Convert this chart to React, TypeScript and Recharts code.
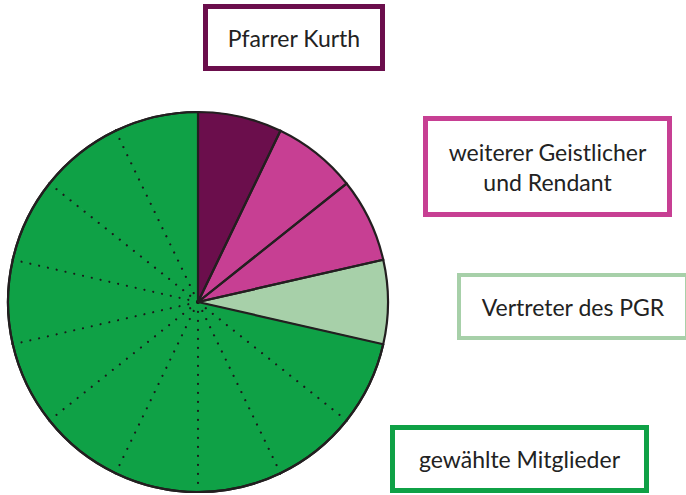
import React from 'react';
import { PieChart, Pie, Cell } from 'recharts';

// One seat per slice, clockwise from the top
const seatGroups = [
  'pfarrer',
  'geistlich',
  'geistlich',
  'pgr',
  'gewaehlt', 'gewaehlt', 'gewaehlt', 'gewaehlt', 'gewaehlt',
  'gewaehlt', 'gewaehlt', 'gewaehlt', 'gewaehlt', 'gewaehlt',
];
const seatValues = [1, 1, 1, 1, 1, 1, 1, 1, 1, 1, 1, 1, 1, 1];

const groupKeys = ['pfarrer', 'geistlich', 'pgr', 'gewaehlt'];
const groupLabels = [
  ['Pfarrer Kurth'],
  ['weiterer Geistlicher', 'und Rendant'],
  ['Vertreter des PGR'],
  ['gewählte Mitglieder'],
];

const groupColors: Record<string, string> = {
  pfarrer: '#6b0e4c',
  geistlich: '#c73f93',
  pgr: '#a7d0a9',
  gewaehlt: '#0fa146',
};

const data = seatGroups.map((g, i) => ({ name: `${g}-${i}`, group: g, value: seatValues[i] }));

const OUTLINE = '#231f20';
const R = 190;
const arcLen = (R * 2 * Math.PI) / data.length;
const DOT = 0.01;
const GAP = 8.99;
const dotted =
  `${arcLen} ${GAP}` + ` ${DOT} ${GAP}`.repeat(20) + ' 0 2000';

const boxStyles: React.CSSProperties[] = [
  { left: 203, top: 4, width: 182, height: 67, borderWidth: 5 },
  { left: 423, top: 116, width: 249, height: 101, borderWidth: 5 },
  { left: 457, top: 273, width: 232, height: 67, borderWidth: 4 },
  { left: 390, top: 425, width: 259, height: 68, borderWidth: 5 },
];

const pieProps = {
  data,
  dataKey: 'value',
  cx: 198,
  cy: 302,
  outerRadius: R,
  startAngle: 90,
  endAngle: -270,
  isAnimationActive: false,
  paddingAngle: 0,
};

export default function App() {
  return (
    <div style={{ position: 'absolute', left: 0, top: 0, width: 686, height: 495, background: '#fff' }}>
      <PieChart width={686} height={495} margin={{ top: 0, right: 0, bottom: 0, left: 0 }}>
        <Pie {...pieProps}>
          {data.map((d, i) => (
            <Cell
              key={`f-${i}`}
              fill={groupColors[d.group]}
              stroke={groupColors[d.group]}
              strokeWidth={1}
            />
          ))}
        </Pie>
        <Pie {...pieProps}>
          {data.map((d, i) => (
            <Cell
              key={`d-${i}`}
              fill="none"
              stroke={d.group === 'gewaehlt' ? '#1a1a1a' : 'none'}
              strokeWidth={d.group === 'gewaehlt' ? 2.2 : 0}
              strokeLinecap="round"
              strokeDasharray={d.group === 'gewaehlt' ? dotted : undefined}
            />
          ))}
        </Pie>
        <Pie {...pieProps}>
          {data.map((d, i) => (
            <Cell
              key={`s-${i}`}
              fill="none"
              stroke={OUTLINE}
              strokeWidth={2.2}
              strokeDasharray={d.group === 'gewaehlt' ? `${arcLen} 2000` : undefined}
            />
          ))}
        </Pie>
      </PieChart>
      {groupKeys.map((g, i) => (
        <div
          key={g}
          style={{
            position: 'absolute',
            boxSizing: 'border-box',
            borderStyle: 'solid',
            borderColor: groupColors[g],
            display: 'flex',
            flexDirection: 'column',
            alignItems: 'center',
            justifyContent: 'center',
            fontFamily: 'Lato, sans-serif',
            fontSize: 23,
            lineHeight: '30px',
            color: '#222',
            background: '#fff',
            ...boxStyles[i],
          }}
        >
          {groupLabels[i].map((line) => (
            <div key={line}>{line}</div>
          ))}
        </div>
      ))}
    </div>
  );
}
